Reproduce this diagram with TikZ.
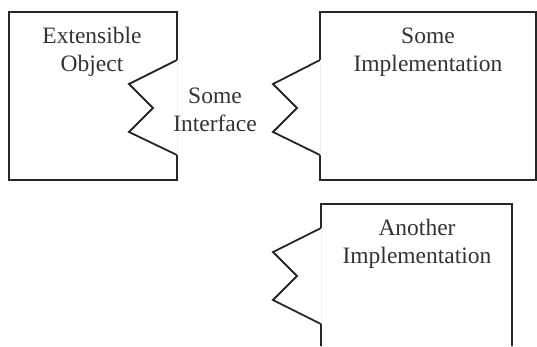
\documentclass[tikz,border=0pt]{standalone}
\usepackage{fontspec}
\setmainfont{Liberation Serif}
\begin{document}
\begin{tikzpicture}[x=1pt,y=-1pt,
  outline/.style={draw=black!85,line width=1.8pt,line join=miter},
  seam/.style={draw=black!6,line width=0.8pt},
  label/.style={text=black!80,font=\fontsize{23.5}{28}\selectfont,align=center,inner sep=0pt}]
\useasboundingbox (0,0) rectangle (537,346);
% Extensible object with a socket cut into its right side
\draw[outline] (177,60) -- (177,12) -- (9,12) -- (9,180) -- (177,180) -- (177,155)
  -- (129,132) -- (153,108) -- (129,84) -- cycle;
\draw[seam] (177,60) -- (177,155);
\node[label] (ext) at (92,52) {Extensible\\Object};
\node[label] (iface) at (215,110) {Some\\Interface};
% First implementation with its plug on the left
\draw[outline] (320,60) -- (320,12) -- (536,12) -- (536,180) -- (320,180) -- (320,155)
  -- (273,132) -- (297,108) -- (273,84) -- cycle;
\draw[seam] (320,60) -- (320,155);
\node[label] (impl) at (428,52) {Some\\Implementation};
% Second implementation, open at the bottom
\draw[outline] (321,346) -- (321,324) -- (273,300) -- (297,276) -- (273,252) -- (321,228)
  -- (321,204) -- (512,204) -- (512,346);
\draw[seam] (321,228) -- (321,324);
\node[label] (other) at (417,244) {Another\\Implementation};
\end{tikzpicture}
\end{document}
